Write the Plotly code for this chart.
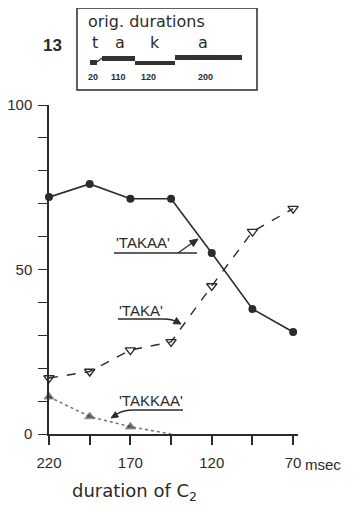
import math
import plotly.graph_objects as go

# ---- data ----
durations = [220, 195, 170, 145, 120, 95, 70]
takaa = [72, 76, 71.5, 71.5, 55, 38, 31]
taka = [17, 19, 25.5, 28, 45, 61.5, 68.5]
takkaa_x = [220, 195, 170, 145]
takkaa = [11.3, 5.3, 2.2, 0]
takkaa_marker = [9, 9, 9, 0]

x_tickvals = [220, 170, 120, 70]
x_ticktext = ["220", "170", "120", "70"]
y_tickvals = [0, 50, 100]
y_ticktext = ["0", "50", "100"]

OFF = 8  # browser body margin
W, H = 353 - OFF, 508 - OFF
L, R, T, B = 49, 298, 105, 434
XR = [220, 67]
YR = [0, 100]
INK = "#2b2b2b"
FONT = "Liberation Sans"
FONT2 = "DejaVu Sans"


def ppx(px):
    return (px - L) / (R - L)


def ppy(py):
    return (B - py) / (B - T)


def pt(px, py):
    return f"{ppx(px):.5f},{ppy(py):.5f}"


def head(tx, ty, hx, hy, size=8, half=3.5):
    dx, dy = hx - tx, hy - ty
    n = math.hypot(dx, dy)
    ux, uy = dx / n, dy / n
    bx, by = hx - ux * size, hy - uy * size
    p1 = (bx - uy * half, by + ux * half)
    p2 = (bx + uy * half, by - ux * half)
    return dict(type="path", xref="paper", yref="paper",
                path=f"M {pt(hx, hy)} L {pt(*p1)} L {pt(*p2)} Z",
                fillcolor=INK, line=dict(color=INK, width=1))


def text_at(px, py, text, size, family=FONT, xanchor="center"):
    return dict(x=ppx(px), y=ppy(py), xref="paper", yref="paper", text=text,
                showarrow=False, xanchor=xanchor, yanchor="middle",
                font=dict(family=family, size=size, color=INK))


fig = go.Figure()
fig.add_trace(go.Scatter(x=takkaa_x, y=takkaa, mode="lines+markers",
                         line=dict(color="#777", width=1.6, dash="dot"),
                         marker=dict(symbol="triangle-up", size=takkaa_marker, color=INK),
                         cliponaxis=False, showlegend=False))
fig.add_trace(go.Scatter(x=durations, y=taka, mode="lines+markers",
                         line=dict(color=INK, width=1.4, dash="dash"),
                         marker=dict(symbol="triangle-down-open", size=9, color=INK,
                                     line=dict(width=1.4, color=INK)),
                         cliponaxis=False, showlegend=False))
fig.add_trace(go.Scatter(x=durations, y=takaa, mode="lines+markers",
                         line=dict(color=INK, width=1.6),
                         marker=dict(symbol="circle", size=8, color=INK),
                         cliponaxis=False, showlegend=False))

shapes = []
annotations = []

# series labels with underlines and arrows
for text, tx, ty in [("'TAKAA'", 114, 242), ("'TAKA'", 117, 310), ("'TAKKAA'", 117, 400)]:
    annotations.append(text_at(tx, ty, text, 15, xanchor="left"))

line_style = dict(color=INK, width=1.6)
# TAKAA
shapes.append(dict(type="path", xref="paper", yref="paper",
                   path=f"M {pt(114, 253)} L {pt(197, 253)}", line=line_style))
shapes.append(dict(type="path", xref="paper", yref="paper",
                   path=f"M {pt(178, 253)} L {pt(192, 243)}", line=dict(color=INK, width=1.3)))
shapes.append(head(178, 253, 198, 239))
# TAKA
shapes.append(dict(type="path", xref="paper", yref="paper",
                   path=f"M {pt(118, 319)} L {pt(163, 319)} Q {pt(173, 319)} {pt(176, 322)}",
                   line=line_style))
shapes.append(head(170, 318, 181, 324, size=7, half=3.5))
# TAKKAA
shapes.append(dict(type="path", xref="paper", yref="paper",
                   path=f"M {pt(183, 410)} L {pt(134, 410)} Q {pt(123, 410)} {pt(117, 414)}",
                   line=dict(color=INK, width=1.3)))
shapes.append(head(124, 410, 111, 418, size=7, half=3))

# msec + x title
annotations.append(text_at(303, 464, "msec", 15, xanchor="left"))
annotations.append(text_at(134, 492, "duration of C<sub>2</sub>", 18, family=FONT2))

# inset box (original durations)
shapes.append(dict(type="rect", xref="paper", yref="paper", x0=ppx(77), x1=ppx(257),
                   y0=ppy(90), y1=ppy(8), line=dict(color=INK, width=1.5)))
annotations.append(text_at(52, 46, "<b>13</b>", 17))
annotations.append(text_at(86, 21, "orig. durations", 16, family=FONT2, xanchor="left"))
for ch, cx in [("t", 95), ("a", 120), ("k", 155), ("a", 203)]:
    annotations.append(text_at(cx, 43, ch, 16, family=FONT2))
for num, cx in [("20", 93), ("110", 118), ("120", 148), ("200", 205)]:
    annotations.append(text_at(cx, 77, "<b>" + num + "</b>", 9))
for x0, x1, y0, y1 in [(90, 97, 60, 65), (102, 135, 56, 61), (135, 175, 61, 65), (175, 242, 55, 60)]:
    shapes.append(dict(type="rect", xref="paper", yref="paper", x0=ppx(x0), x1=ppx(x1),
                       y0=ppy(y1), y1=ppy(y0), line=dict(width=0), fillcolor="#333"))
shapes.append(dict(type="line", xref="paper", yref="paper", x0=ppx(97), x1=ppx(102),
                   y0=ppy(62), y1=ppy(58), line=dict(color="#333", width=1.5)))

fig.update_layout(
    width=W, height=H,
    margin=dict(l=L - OFF, r=353 - R, t=T - OFF, b=508 - B, pad=0),
    paper_bgcolor="white", plot_bgcolor="white",
    shapes=shapes, annotations=annotations,
    font=dict(family=FONT, color=INK),
    xaxis=dict(range=XR, tickvals=x_tickvals, ticktext=x_ticktext, showgrid=False,
               automargin=False,
               zeroline=False, showline=True, linecolor=INK, linewidth=1.5,
               ticks="outside", ticklen=9, tickwidth=1.5, tickcolor=INK,
               minor=dict(tickvals=durations, ticks="outside", ticklen=9, tickwidth=1.5,
                          tickcolor=INK, showgrid=False),
               ticklabelstandoff=5, tickfont=dict(family=FONT, size=15, color=INK)),
    yaxis=dict(range=YR, tickvals=y_tickvals, ticktext=y_ticktext, showgrid=False,
               automargin=False,
               zeroline=False, showline=True, linecolor=INK, linewidth=1.5,
               ticks="outside", ticklen=9, tickwidth=1.2, tickcolor=INK,
               minor=dict(dtick=10, tick0=0, ticks="outside", ticklen=9, tickwidth=1.2,
                          tickcolor=INK, showgrid=False),
               ticklabelstandoff=3, tickfont=dict(family=FONT, size=15, color=INK)),
)

fig.write_html("out.html")
